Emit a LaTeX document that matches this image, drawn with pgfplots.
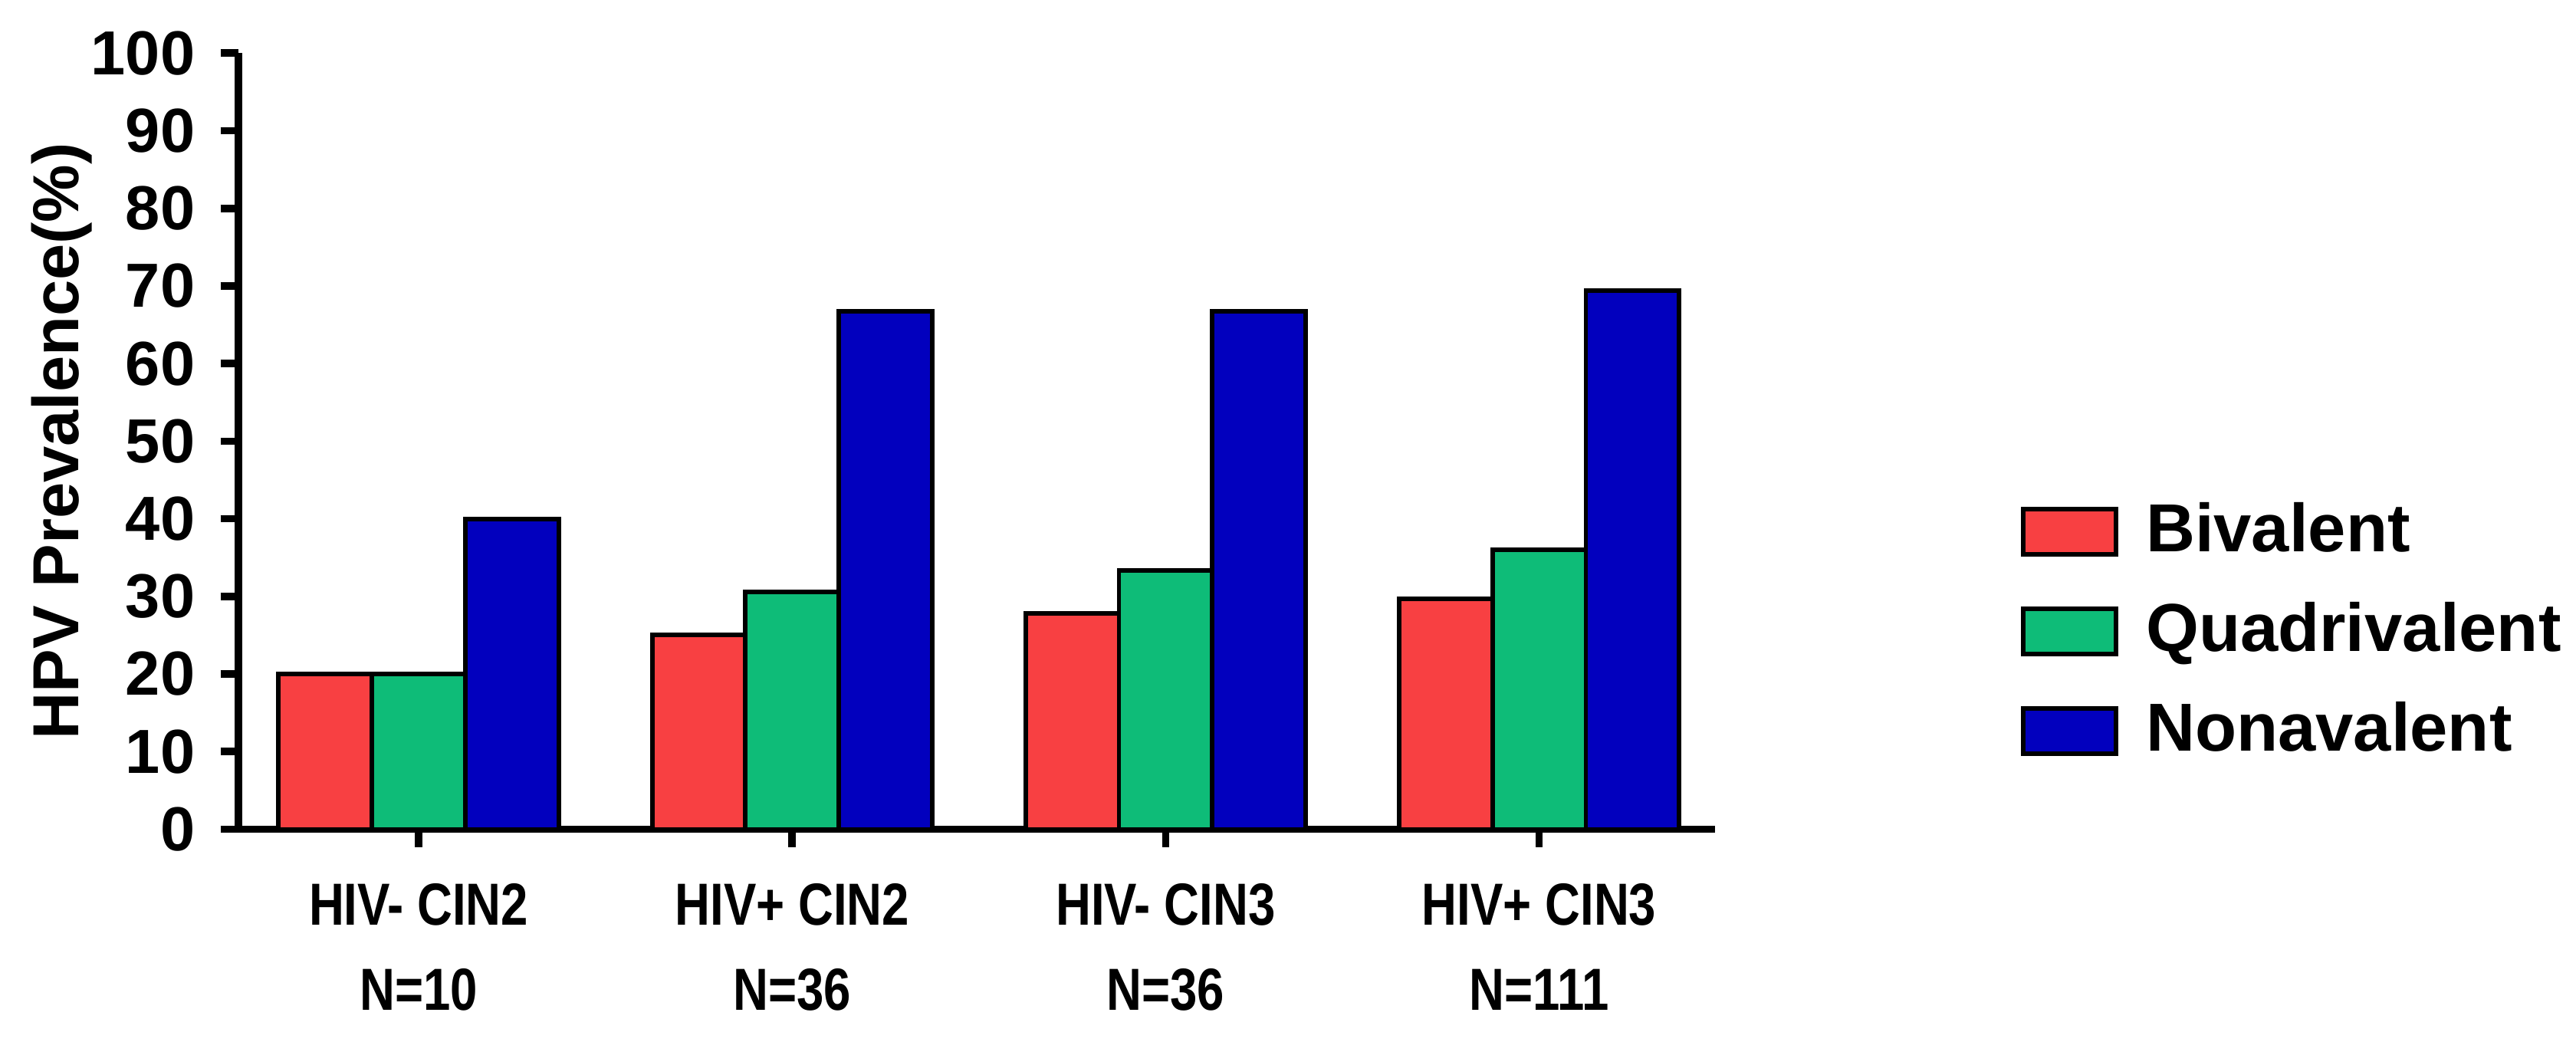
\documentclass[border=0pt]{standalone}
\usepackage{fontspec}
\setmainfont{Liberation Sans}
\newfontfamily\narrowfont{Liberation Sans}[FakeStretch=0.82]
\usepackage{pgfplots}
\pgfplotsset{compat=1.18}

\definecolor{biv}{RGB}{248,64,66}
\definecolor{quad}{RGB}{14,188,120}
\definecolor{nona}{RGB}{2,0,190}

\begin{document}
\begin{tikzpicture}
  \useasboundingbox (0,0) rectangle (16,6.47);
  \begin{axis}[
    at={(1.48cm,1.32cm)},
    anchor=south west,
    scale only axis,
    width=9.17cm,
    height=4.82cm,
    ybar=0pt,
    bar width=0.25,
    xmin=-0.483, xmax=3.47,
    ymin=0, ymax=100,
    ytick={0,10,...,100},
    xtick={0,1,2,3},
    xticklabels={{HIV- CIN2\\N=10},{HIV+ CIN2\\N=36},{HIV- CIN3\\N=36},{HIV+ CIN3\\N=111}},
    axis x line*=bottom,
    axis y line*=left,
    axis line style={line width=1.3pt, -},
    tick style={line width=1.3pt, black},
    major tick length=0.11cm,
    tick align=outside,
    /pgf/number format/assume math mode=true,
    yticklabel style={font=\fontsize{11}{13}\selectfont\bfseries, xshift=-1pt},
    xticklabel style={font=\narrowfont\fontsize{10.5}{15}\selectfont\bfseries, align=center, yshift=-3pt},
    ylabel={HPV Prevalence(\%)},
    ylabel shift=-7pt,
    ylabel style={font=\fontsize{11.5}{13}\selectfont\bfseries},
    legend cell align=left,
    legend style={
      at={(1.195,0.255)},
      anchor=west,
      draw=none,
      font=\fontsize{12}{13}\selectfont\bfseries,
      row sep=0.12cm,
      /tikz/every odd column/.append style={column sep=0.1cm},
    },
    legend image code/.code={
      \draw[#1, line width=0.8pt] (0cm,-0.14cm) rectangle (0.58cm,0.14cm);
    },
    clip=false,
  ]
  % Bivalent
  \addplot[fill=biv, draw=black, line width=0.8pt] coordinates {
    (0,20) (1,25) (2,27.8) (3,29.7)
  };
  \addlegendentry{Bivalent}
  % Quadrivalent
  \addplot[fill=quad, draw=black, line width=0.8pt] coordinates {
    (0,20) (1,30.6) (2,33.3) (3,36.0)
  };
  \addlegendentry{Quadrivalent}
  % Nonavalent
  \addplot[fill=nona, draw=black, line width=0.8pt] coordinates {
    (0,40) (1,66.7) (2,66.7) (3,69.4)
  };
  \addlegendentry{Nonavalent}
  \end{axis}
\end{tikzpicture}
\end{document}
